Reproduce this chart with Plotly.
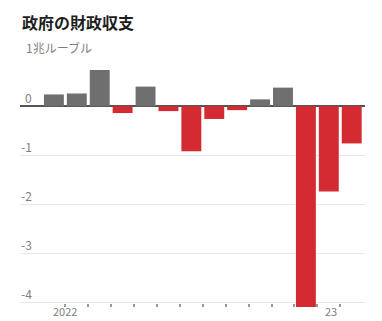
import plotly.graph_objects as go

months = ["2022-01", "2022-02", "2022-03", "2022-04", "2022-05", "2022-06", "2022-07",
          "2022-08", "2022-09", "2022-10", "2022-11", "2022-12", "2023-01", "2023-02"]
balance = [0.24, 0.26, 0.74, -0.14, 0.40, -0.10, -0.92, -0.26, -0.08, 0.14, 0.38, -4.10, -1.74, -0.76]

y_tick_vals = [1, 0, -1, -2, -3, -4]
y_tick_text = ["1兆ルーブル", "0", "-1", "-2", "-3", "-4"]
x_label_pos = [0.5, 12.1]
x_label_text = ["2022", "23"]

GRAY = "#6f6f6f"
RED = "#d42a31"
FONT = "Noto Sans CJK JP"

xs = list(range(len(months)))
colors = [GRAY if v >= 0 else RED for v in balance]

fig = go.Figure(go.Bar(x=xs, y=balance, marker=dict(color=colors, line=dict(width=0)),
                       hovertext=months, showlegend=False))

annotations = []
for v, t in zip(y_tick_vals, y_tick_text):
    if v == 1:
        annotations.append(dict(x=0, xref="paper", y=v, yref="y", text=t, showarrow=False,
                                xanchor="left", yanchor="middle", xshift=4, yshift=10,
                                font=dict(size=12, color="#808080", family=FONT)))
    else:
        annotations.append(dict(x=0, xref="paper", y=v, yref="y", text=t, showarrow=False,
                                xanchor="right", yanchor="middle", xshift=14, yshift=9,
                                font=dict(size=12, color="#808080", family=FONT)))
for xv, t in zip(x_label_pos, x_label_text):
    annotations.append(dict(x=xv, xref="x", y=0, yref="paper", text=t, showarrow=False,
                            xanchor="center", yanchor="bottom", yshift=-14,
                            font=dict(size=11, color="#808080", family=FONT)))
annotations.append(dict(x=0, xref="paper", y=1, yref="paper", text="<b>政府の財政収支</b>",
                        showarrow=False, xanchor="left", yanchor="middle", xshift=0, yshift=35,
                        font=dict(size=16, color="#1e1e1e", family=FONT)))

fig.update_layout(
    width=374, height=313,
    margin=dict(l=12, r=17, t=49, b=14, autoexpand=False),
    paper_bgcolor="white", plot_bgcolor="white",
    bargap=0.13,
    font=dict(family=FONT, size=12, color="#808080"),
    annotations=annotations,
    xaxis=dict(range=[-1.48, 13.58], showgrid=False, showline=False, zeroline=False,
               automargin=False, showticklabels=False,
               tickmode="array", tickvals=x_label_pos, ticks="",
               minor=dict(tickmode="array", tickvals=[i + 0.5 for i in range(len(months) - 1)],
                          ticks="inside", ticklen=3, tickcolor="#999", tickwidth=1.5)),
    yaxis=dict(range=[-4.1, 1.005], showgrid=True, gridcolor="#e8e8e8", gridwidth=1,
               automargin=False,
               tickmode="array", tickvals=y_tick_vals, showticklabels=False, ticks="",
               zeroline=True, zerolinecolor="#555", zerolinewidth=1.5, showline=False),
)

fig.write_html("out.html")
